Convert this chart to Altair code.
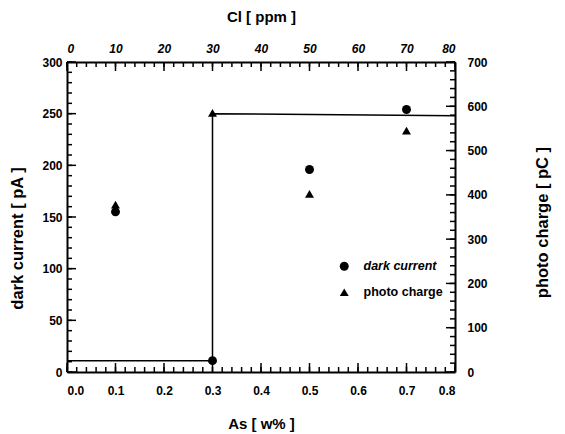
import altair as alt
import pandas as pd

# ---- data ----
as_wt = [0.1, 0.3, 0.5, 0.7]
cl_ppm = [10, 30, 50, 70]
dark_current = [155, 11, 196, 254]
photo_charge = [378, 585, 402, 545]
step_as = [0.0, 0.3, 0.3, 0.8]
step_dc = [11, 11, 250, 248]

W, H = 388, 310
FONT = "Liberation Sans"

dc = pd.DataFrame({"As": as_wt, "v": dark_current, "series": "dark current"})
pc = pd.DataFrame({"Cl": cl_ppm, "v": photo_charge, "series": "photo charge"})
step = pd.DataFrame({"As": step_as, "v": step_dc, "o": range(len(step_as))})

xs = alt.Scale(domain=[0, 0.8], nice=False, zero=False)
ys = alt.Scale(domain=[0, 300], nice=False)
x2s = alt.Scale(domain=[0, 80], nice=False, zero=False)
y2s = alt.Scale(domain=[0, 700], nice=False)

shape_scale = alt.Scale(domain=["dark current", "photo charge"], range=["circle", "triangle-up"])

ax_common = dict(ticks=False, grid=False, domainColor="black", domainWidth=2,
                 labelFont=FONT, labelFontWeight="bold", labelFontSize=12, labelColor="black",
                 titleFont=FONT, titleFontWeight="bold", titleColor="black")

x_bottom = alt.Axis(orient="bottom", values=[round(0.1 * i, 1) for i in range(9)], format=".1f",
                    labelPadding=13, titlePadding=20, titleFontSize=15, title="As [ w% ]", **ax_common)
y_left = alt.Axis(orient="left", values=list(range(0, 301, 50)), labelPadding=5,
                  titlePadding=16, titleFontSize=16.5, titleY=176, title="dark current [ pA ]", **ax_common)
x_top = alt.Axis(orient="top", values=list(range(0, 81, 10)), labelPadding=7, labelFontStyle="italic",
                 titlePadding=18, titleFontSize=15, title="Cl [ ppm ]", **ax_common)
y_right = alt.Axis(orient="right", values=list(range(0, 701, 100)), labelPadding=12,
                   titlePadding=63, titleAngle=270, titleFontSize=16.5, titleY=160,
                   title="photo charge [ pC ]", **ax_common)

line = alt.Chart(step).mark_line(color="black", strokeWidth=1.5).encode(
    x=alt.X("As:Q", scale=xs, axis=x_bottom),
    y=alt.Y("v:Q", scale=ys, axis=y_left),
    order="o:Q",
)

circles = alt.Chart(dc).mark_point(filled=True, color="black", size=80, opacity=1).encode(
    x=alt.X("As:Q", scale=xs),
    y=alt.Y("v:Q", scale=ys),
    shape=alt.Shape("series:N", scale=shape_scale,
                    legend=alt.Legend(title=None, orient="none", legendX=271, legendY=198,
                                      labelFont=FONT, labelFontSize=12.5, labelColor="black",
                                      labelFontWeight="bold",
                                      labelFontStyle=alt.ExprRef("datum.value == 'dark current' ? 'italic' : 'normal'"),
                                      symbolFillColor="black", symbolStrokeColor="black",
                                      symbolSize=80, rowPadding=11, labelOffset=13, padding=0)),
)

# inward tick marks
bx_major = pd.DataFrame({"t": [round(0.1 * i, 2) for i in range(9)]})
bx_minor = pd.DataFrame({"t": [round(0.02 * i, 2) for i in range(41)]})
ly_major = pd.DataFrame({"t": list(range(0, 301, 50))})
ly_minor = pd.DataFrame({"t": list(range(0, 301, 10))})

def xticks(df, scale, ypos, length):
    return alt.Chart(df).mark_tick(color="black", thickness=1.5, size=length, orient="vertical", opacity=1).encode(
        x=alt.X("t:Q", scale=scale), y=alt.value(ypos))

def yticks(df, scale, xpos, length):
    return alt.Chart(df).mark_tick(color="black", thickness=1.5, size=length, orient="horizontal", opacity=1).encode(
        y=alt.Y("t:Q", scale=scale), x=alt.value(xpos))

layer_a = alt.layer(
    line, circles,
    xticks(bx_major, xs, H - 4.5, 9), xticks(bx_minor, xs, H - 2.5, 5),
    yticks(ly_major, ys, 4.5, 9), yticks(ly_minor, ys, 2.5, 5),
)

tx_major = pd.DataFrame({"t": list(range(0, 81, 10))})
tx_minor = pd.DataFrame({"t": list(range(0, 81, 2))})
ry_major = pd.DataFrame({"t": list(range(0, 701, 100))})
ry_minor = pd.DataFrame({"t": list(range(0, 701, 20))})

triangles = alt.Chart(pc).mark_point(filled=True, color="black", size=80, opacity=1).encode(
    x=alt.X("Cl:Q", scale=x2s, axis=x_top),
    y=alt.Y("v:Q", scale=y2s, axis=y_right),
    shape=alt.Shape("series:N", scale=shape_scale),
)

layer_b = alt.layer(
    triangles,
    xticks(tx_major, x2s, 4.5, 9), xticks(tx_minor, x2s, 2.5, 5),
    yticks(ry_major, y2s, W - 4.5, 9), yticks(ry_minor, y2s, W - 2.5, 5),
)

chart = alt.layer(layer_a, layer_b).resolve_scale(x="independent", y="independent").properties(
    width=W, height=H,
    autosize=alt.AutoSizeParams(type="none"),
    padding={"left": 59, "top": 54, "right": 102, "bottom": 62},
).configure_view(stroke=None).configure(background="white")

chart.save("out.html", embed_options={"renderer": "svg", "actions": False})
